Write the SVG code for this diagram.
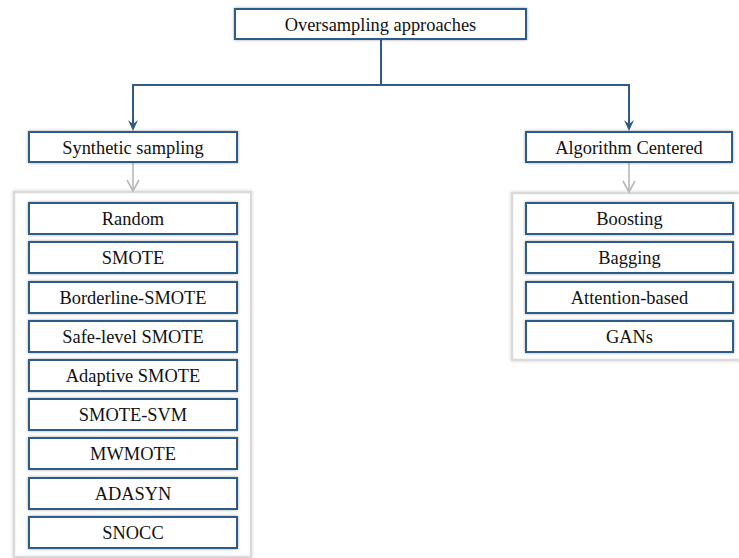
<svg xmlns="http://www.w3.org/2000/svg" width="739" height="558" viewBox="0 0 739 558">
<defs>
<filter id="sh" x="-10%" y="-30%" width="120%" height="160%">
<feDropShadow dx="0" dy="0" stdDeviation="1.5" flood-color="#000" flood-opacity="0.35"/>
</filter>
<filter id="shc" x="-10%" y="-10%" width="120%" height="120%">
<feDropShadow dx="0" dy="0" stdDeviation="1.5" flood-color="#000" flood-opacity="0.2"/>
</filter>
</defs>
<style>
.box{fill:#fff;stroke:#2F5B88;stroke-width:2;filter:url(#sh)}
.cont{fill:#fff;stroke:#DADADA;stroke-width:2.5;filter:url(#shc)}
text{font-family:'Liberation Serif',Tinos,'Times New Roman',Times,'DejaVu Serif',serif;font-size:18.4px;fill:#111;text-anchor:middle}
.bl{fill:none;stroke:#2F5B88;stroke-width:2}
.gr{fill:none;stroke:#B8B8B8;stroke-width:1.6}
</style>
<g id="containers">
<rect class="cont" x="14" y="192" width="237" height="365"/>
<rect class="cont" x="512" y="193" width="232" height="167"/>
</g>
<g id="connectors">
<path class="bl" d="M381 39 V85"/>
<path class="bl" d="M381 85 H133 V124"/>
<path class="bl" d="M381 85 H629 V124"/>
<path d="M128 120 L133 131 L138 120 L133 124 z" fill="#2F5B88"/>
<path d="M624 120 L629 131 L634 120 L629 124 z" fill="#2F5B88"/>
<path class="gr" d="M133 162 V191"/>
<path class="gr" d="M127 180 L133 191 L139 180"/>
<path class="gr" d="M629 162 V192"/>
<path class="gr" d="M623 181 L629 192 L635 181"/>
</g>
<g id="root"><rect class="box" x="235" y="9" width="291" height="30"/><text x="380.5" y="30.5" font-family="Liberation Serif, serif">Oversampling approaches</text></g>
<g id="synthetic"><rect class="box" x="29" y="132" width="208" height="30"/><text x="133" y="153.5">Synthetic sampling</text></g>
<g id="algorithm"><rect class="box" x="526" y="132" width="206" height="30"/><text x="629" y="153.5">Algorithm Centered</text></g>
<g id="random"><rect class="box" x="29" y="203" width="208" height="31"/><text x="133" y="224.5">Random</text></g>
<g id="smote"><rect class="box" x="29" y="242" width="208" height="31"/><text x="133" y="263.5">SMOTE</text></g>
<g id="borderline"><rect class="box" x="29" y="282" width="208" height="31"/><text x="133" y="303.5">Borderline-SMOTE</text></g>
<g id="safelevel"><rect class="box" x="29" y="321" width="208" height="31"/><text x="133" y="342.5">Safe-level SMOTE</text></g>
<g id="adaptive"><rect class="box" x="29" y="360" width="208" height="31"/><text x="133" y="381.5">Adaptive SMOTE</text></g>
<g id="smotesvm"><rect class="box" x="29" y="399" width="208" height="31"/><text x="133" y="420.5">SMOTE-SVM</text></g>
<g id="mwmote"><rect class="box" x="29" y="438" width="208" height="31"/><text x="133" y="459.5">MWMOTE</text></g>
<g id="adasyn"><rect class="box" x="29" y="478" width="208" height="31"/><text x="133" y="499.5">ADASYN</text></g>
<g id="snocc"><rect class="box" x="29" y="517" width="208" height="31"/><text x="133" y="538.5">SNOCC</text></g>
<g id="boosting"><rect class="box" x="526" y="203" width="207" height="31"/><text x="629.5" y="224.5">Boosting</text></g>
<g id="bagging"><rect class="box" x="526" y="242" width="207" height="31"/><text x="629.5" y="263.5">Bagging</text></g>
<g id="attention"><rect class="box" x="526" y="282" width="207" height="31"/><text x="629.5" y="303.5">Attention-based</text></g>
<g id="gans"><rect class="box" x="526" y="321" width="207" height="31"/><text x="629.5" y="342.5">GANs</text></g>
</svg>
